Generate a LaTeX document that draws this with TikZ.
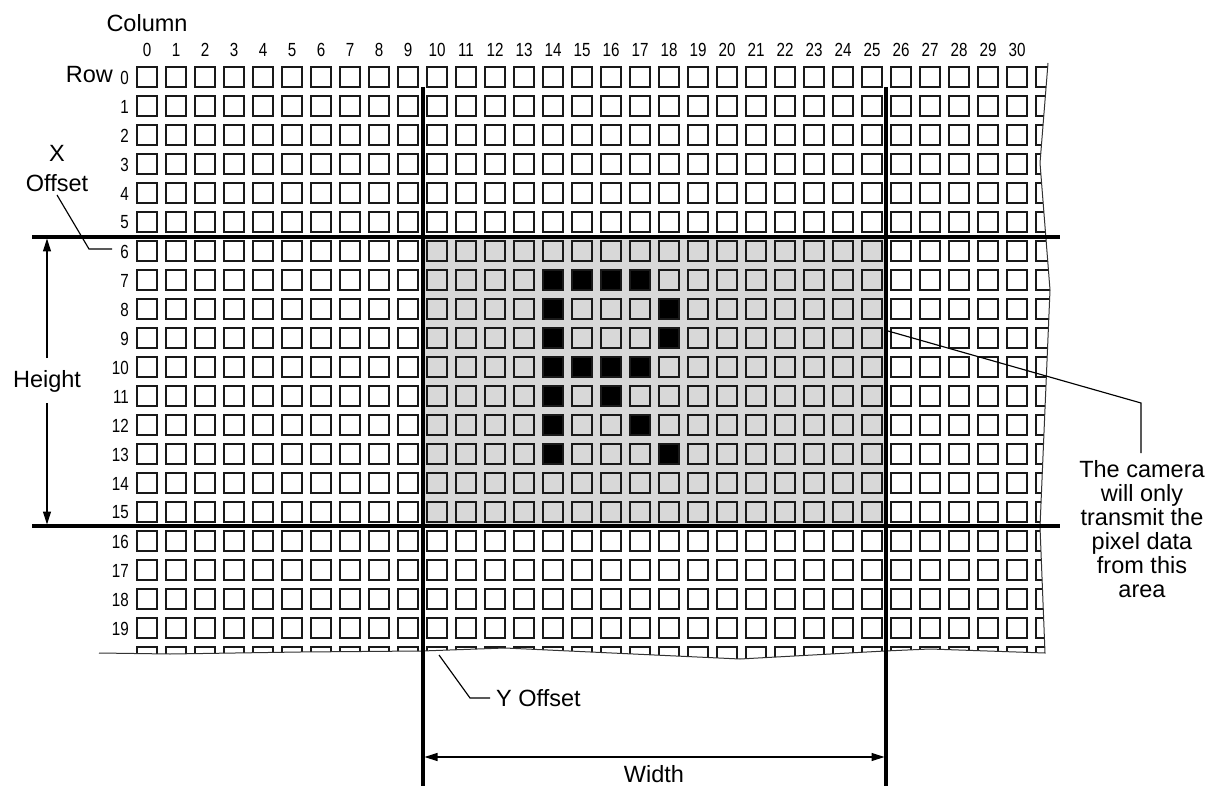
\documentclass[tikz,border=0pt]{standalone}
\usepackage{fontspec}
\setmainfont{Liberation Sans}
\newfontfamily\narrowdigits[FakeStretch=0.8]{Liberation Sans}
\usetikzlibrary{arrows.meta}
\definecolor{roigray}{RGB}{216,216,216}
\begin{document}
\begin{tikzpicture}[x=1pt,y=-1pt,
  cell/.style={draw=black!90, line width=1.3pt},
  blk/.style={cell, fill=black},
  heavy/.style={line width=3.3pt},
  thinline/.style={line width=1.15pt},
  edgeline/.style={line width=1pt, draw=black!80},
  lbl/.style={font=\fontsize{23.5}{24}\selectfont, inner sep=0pt},
  num/.style={font=\narrowdigits\fontsize{19}{19}\selectfont, inner sep=0pt},
  tip/.style={-{Triangle[length=13pt,width=8pt]}},
  tips/.style={{Triangle[length=13pt,width=8pt]}-{Triangle[length=13pt,width=8pt]}}
]
\useasboundingbox (0,0) rectangle (1218,786);
% region of interest
\fill[roigray] (423,237) rectangle (886,526);
% pixel grid, clipped by the torn edges
\begin{scope}
\clip (90,55) -- (1048,55) -- (1048,63) -- (1040,163) -- (1050,290) -- (1040,527)
      -- (1045,653) -- (930,649) -- (885,651) -- (740,659) -- (505,648) -- (422,651)
      -- (300,652) -- (170,654) -- (99,653) -- cycle;
\foreach \c in {0,...,31} \foreach \r in {0,...,20}
  \draw[cell] ({137+29*\c},{67+29*\r}) rectangle ++(20,20);
\foreach \c/\r in {14/7,15/7,16/7,17/7,14/8,18/8,14/9,18/9,14/10,15/10,16/10,17/10,14/11,16/11,14/12,17/12,14/13,18/13}
  \draw[blk] ({137+29*\c},{67+29*\r}) rectangle ++(20,20);
\end{scope}
% torn edges
\draw[edgeline] (1048,63) -- (1040,163) -- (1050,290) -- (1040,527) -- (1045,653)
  -- (930,649) -- (885,651) -- (740,659) -- (505,648) -- (422,651) -- (300,652)
  -- (170,654) -- (99,653);
% heavy boundary lines
\coordinate (t1) at (32,237);  \coordinate (t2) at (1060,237);
\coordinate (b1) at (32,526);  \coordinate (b2) at (1060,526);
\coordinate (l1) at (423,87);  \coordinate (l2) at (423,786);
\coordinate (r1) at (886,87);  \coordinate (r2) at (886,786);
\draw[heavy] (t1) -- (t2);
\draw[heavy] (b1) -- (b2);
\draw[heavy] (l1) -- (l2);
\draw[heavy] (r1) -- (r2);
% column / row labels
\node[lbl] (column) at (147,23) {Column};
\foreach \c in {0,...,30} \node[num] (cl\c) at ({147+29*\c},50) {\c};
\node[lbl, anchor=east] (rowlbl) at (113,74.5) {Row};
\foreach \r in {0,...,19} \node[num, anchor=east] (rl\r) at (129,{77.5+29*\r}) {\r};
% X offset
\node[lbl] (xlbl) at (57,153) {X};
\node[lbl] (offlbl) at (57,183) {Offset};
\coordinate (xs) at (57,195);
\coordinate (xk) at (89,249);
\coordinate (xe) at (112,249);
\draw[thinline] (xs) -- (xk) -- (xe);
% Height
\node[lbl] (height) at (47,381) {Height};
\coordinate (ha) at (47,358); \coordinate (hat) at (47,238.5);
\coordinate (hb) at (47,403); \coordinate (hbt) at (47,524.5);
\draw[thinline, tip] (ha) -- (hat);
\draw[thinline, tip] (hb) -- (hbt);
% Y offset
\node[lbl, anchor=west] (yoff) at (496,698) {Y Offset};
\coordinate (ys) at (439,655);
\coordinate (yk) at (470,698);
\coordinate (ye) at (490,698);
\draw[thinline] (ys) -- (yk) -- (ye);
% Width
\coordinate (wa) at (424.5,757); \coordinate (wb) at (884.5,757);
\draw[thinline, tips] (wa) -- (wb);
\node[lbl] (width) at (654,774) {Width};
% callout
\node[lbl, align=center, anchor=north] (note) at (1142,460)
  {The camera\\will only\\transmit the\\pixel data\\from this\\area};
\coordinate (ns) at (888,331);
\coordinate (nk) at (1141,403);
\coordinate (ne) at (1141,453);
\draw[thinline] (ns) -- (nk) -- (ne);
\end{tikzpicture}
\end{document}
